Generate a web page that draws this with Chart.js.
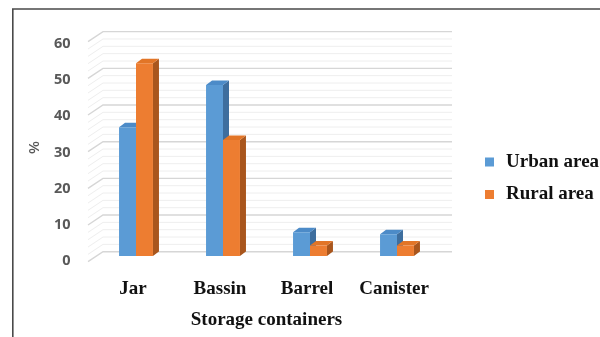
<!DOCTYPE html>
<html>
<head>
<meta charset="utf-8">
<script src="https://cdn.jsdelivr.net/npm/chart.js@4/dist/chart.umd.min.js"></script>
<style>
  html, body { margin: 0; padding: 0; background: #fff; }
  #wrap { position: relative; width: 600px; height: 337px; }
</style>
</head>
<body>
<div id="wrap"><canvas id="chart" width="600" height="337"></canvas></div>
<script>
// Storage container use by area (%)
const categories = ['Jar', 'Bassin', 'Barrel', 'Canister'];
const urbanArea = [35.6, 47.3, 6.6, 6.0];
const ruralArea = [53.3, 32.1, 2.9, 2.9];
const seriesNames = ['Urban area', 'Rural area'];
const yTicks = [0, 10, 20, 30, 40, 50, 60];

const FRONT = ['#5B9BD5', '#ED7D31'];
const CAP = ['#4C8BC8', '#E27527'];
const SIDE = ['#3E6E9E', '#A9561D'];
const SERIF = '"Liberation Serif", "Times New Roman", serif';

// pseudo-3D look: floor/wall depth and column depth in px
const WALL_DX = 15, WALL_DY = 10;
const BAR_DX = 6, BAR_DY = 4.5;

const depthPlugin = {
  id: 'depth3d',
  beforeDraw(chart) {
    const ctx = chart.ctx;
    ctx.save();
    ctx.fillStyle = '#fff';
    ctx.fillRect(0, 0, chart.width, chart.height);
    // outer frame (left and top edges)
    ctx.strokeStyle = '#4a4a4a';
    ctx.lineWidth = 1.6;
    ctx.beginPath();
    ctx.moveTo(12.8, chart.height);
    ctx.lineTo(12.8, 9);
    ctx.lineTo(chart.width, 9);
    ctx.stroke();
    ctx.restore();
  },
  beforeDatasetsDraw(chart) {
    const ctx = chart.ctx;
    const a = chart.chartArea;
    const y = chart.scales.y;
    const y0 = y.getPixelForValue(0);
    const backY = v => y0 - 4.3 + (y.getPixelForValue(v) - y0) * 1.014;
    const xFront = a.left - 4.5, xBack = xFront + WALL_DX, xEnd = a.right + 11.5;
    ctx.save();
    // back wall gridlines with a minor line every 2 units
    for (let v = y.min; v <= y.max; v += 2) {
      const major = v % 10 === 0;
      const yb = backY(v);
      ctx.strokeStyle = major ? '#d6d6d6' : '#eeeeee';
      ctx.lineWidth = major ? 1.4 : 1;
      ctx.beginPath();
      ctx.moveTo(xFront, yb + WALL_DY);
      ctx.lineTo(xBack, yb);
      ctx.lineTo(xEnd, yb);
      ctx.stroke();
    }
    // column side faces and top caps (front faces are drawn by the bar elements)
    chart.data.datasets.forEach((ds, di) => {
      chart.getDatasetMeta(di).data.forEach(bar => {
        const p = bar.getProps(['x', 'y', 'base', 'width'], true);
        const l = p.x - p.width / 2, r = p.x + p.width / 2;
        ctx.fillStyle = SIDE[di];
        ctx.beginPath();
        ctx.moveTo(r, p.y);
        ctx.lineTo(r + BAR_DX, p.y - BAR_DY);
        ctx.lineTo(r + BAR_DX, p.base - BAR_DY);
        ctx.lineTo(r, p.base);
        ctx.closePath();
        ctx.fill();
        ctx.fillStyle = CAP[di];
        ctx.beginPath();
        ctx.moveTo(l, p.y);
        ctx.lineTo(l + BAR_DX, p.y - BAR_DY);
        ctx.lineTo(r + BAR_DX, p.y - BAR_DY);
        ctx.lineTo(r, p.y);
        ctx.closePath();
        ctx.fill();
      });
    });
    ctx.restore();
  },
  afterDraw(chart) {
    // legend on the right
    const ctx = chart.ctx;
    const rows = [162, 194.5];
    ctx.save();
    ctx.font = 'bold 19px ' + SERIF;
    ctx.textBaseline = 'middle';
    ctx.textAlign = 'left';
    chart.data.datasets.forEach((ds, di) => {
      const yc = rows[di];
      ctx.fillStyle = FRONT[di];
      ctx.fillRect(485, yc - 4.5, 9, 9);
      ctx.fillStyle = '#111';
      ctx.fillText(ds.label, 506, yc);
    });
    ctx.restore();
  }
};

new Chart(document.getElementById('chart'), {
  type: 'bar',
  data: {
    labels: categories,
    datasets: [
      { label: seriesNames[0], data: urbanArea, backgroundColor: FRONT[0] },
      { label: seriesNames[1], data: ruralArea, backgroundColor: FRONT[1] }
    ]
  },
  options: {
    responsive: false,
    animation: false,
    events: [],
    layout: { padding: { left: 20, right: 159.5, top: 39, bottom: 0 } },
    datasets: { bar: { categoryPercentage: 0.39, barPercentage: 1, borderWidth: 0 } },
    plugins: { legend: { display: false }, tooltip: { enabled: false } },
    scales: {
      x: {
        grid: { display: false, drawTicks: false },
        border: { display: false },
        ticks: {
          color: '#111',
          font: { family: SERIF, size: 19, weight: 'bold' },
          padding: 22,
          labelOffset: -3,
          maxRotation: 0
        },
        title: {
          display: true,
          text: 'Storage containers',
          color: '#111',
          font: { family: SERIF, size: 19, weight: 'bold' },
          padding: { top: 0, bottom: 6 }
        },
        afterFit(scale) { scale.height = 81; }
      },
      y: {
        min: 0,
        max: 60,
        afterBuildTicks(scale) { scale.ticks = yTicks.map(v => ({ value: v })); },
        grid: { display: false, drawTicks: false },
        border: { display: false },
        ticks: {
          color: '#595959',
          font: { family: '"Open Sans", sans-serif', size: 14.5, weight: 'bold' },
          padding: 22,
          labelOffset: 5
        },
        title: {
          display: true,
          text: '%',
          color: '#595959',
          font: { family: '"Open Sans", sans-serif', size: 15, weight: '600' },
          padding: { top: 6, bottom: 0 }
        },
        afterFit(scale) { scale.width = 72.5; }
      }
    }
  },
  plugins: [depthPlugin]
});
</script>
</body>
</html>
